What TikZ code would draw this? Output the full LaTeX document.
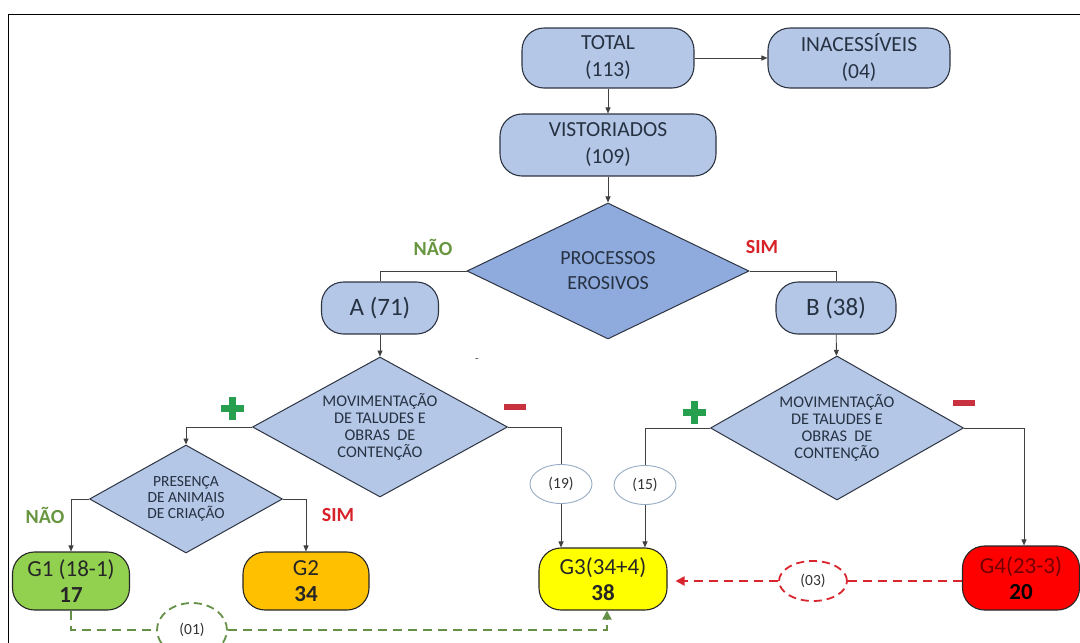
\documentclass[tikz,border=0pt]{standalone}
\usepackage{fontspec}
\setmainfont{Carlito}
\usepackage{tikz}
\usetikzlibrary{arrows.meta, shapes.geometric}
\definecolor{boxblue}{RGB}{180,199,231}
\definecolor{procblue}{RGB}{143,170,220}
\definecolor{boxline}{RGB}{45,52,66}
\definecolor{boxtext}{RGB}{38,50,66}
\definecolor{grpgreen}{RGB}{146,208,80}
\definecolor{grporange}{RGB}{255,192,0}
\definecolor{grpyellow}{RGB}{255,255,0}
\definecolor{grpred}{RGB}{255,0,0}
\definecolor{naogreen}{RGB}{104,150,64}
\definecolor{simred}{RGB}{214,34,40}
\definecolor{plusgreen}{RGB}{38,160,78}
\definecolor{minusred}{RGB}{200,50,62}
\definecolor{ellline}{RGB}{150,172,196}
\definecolor{dashgreen}{RGB}{100,145,70}
\definecolor{dashred}{RGB}{217,38,46}
\newcommand{\fs}[2]{\fontsize{#1}{#2}\selectfont}

\begin{document}
\begin{tikzpicture}[x=1pt, y=-1pt,
    box/.style={draw=boxline, fill=boxblue, line width=1.1pt, rounded corners=22pt,
        text=boxtext, align=center, inner sep=0pt},
    decision/.style={diamond, aspect=1.8, draw=boxline, fill=boxblue, line width=1pt,
        text=boxtext, align=center, inner sep=0pt},
    group/.style={box, draw=black!85, text=black!85, font=\fs{23}{26}},
    count/.style={ellipse, draw=ellline, fill=white, line width=0.9pt, inner sep=0pt,
        minimum width=62pt, minimum height=39pt, font=\fs{15.5}{17}, text=black!80},
    link/.style={draw=black!75, line width=0.9pt},
    arr/.style={link, -{Triangle[length=6pt, width=5pt]}},
    answer/.style={font=\fs{20}{22}\bfseries}]
    \useasboundingbox (0,0) rectangle (1080,643);
    \draw[line width=1.3pt] (1080,14.7) -- (8.7,14.7) -- (8.7,643);

    % Top of the tree
    \node[box, minimum width=172pt, minimum height=60pt, font=\fs{21.5}{27}] (total) at (608,58) {TOTAL\\(113)};
    \node[box, minimum width=182pt, minimum height=60pt, font=\fs{21.5}{27}] (inac) at (859,58) {INACESSÍVEIS\\(04)};
    \node[box, minimum width=216pt, minimum height=62pt, font=\fs{21.5}{27}] (vist) at (608,145) {VISTORIADOS\\(109)};
    \draw[arr] (total) -- (inac);
    \draw[arr] (total) -- (vist);

    % Erosion
    \node[decision, aspect=2, fill=procblue, minimum width=282pt, minimum height=136pt, font=\fs{20}{25}] (proc) at (608,271) {PROCESSOS\\EROSIVOS};
    \draw[arr] (vist) -- (proc);
    \node[answer, text=naogreen] (nao1) at (433,247) {NÃO};
    \node[answer, text=simred] (sim1) at (762,247) {SIM};
    \node[box, minimum width=117pt, minimum height=52pt, font=\fs{25}{27}] (a) at (380,308) {A (71)};
    \node[box, minimum width=120pt, minimum height=52pt, font=\fs{25}{27}] (b) at (836,308) {B (38)};
    \draw[link] (proc.west) -| (a.north);
    \draw[link] (proc.east) -| (b.north);
    \node[font=\fs{12}{12}, text=black!70] (dash) at (477,361) {-};

    % Slopes and retaining works
    \node[decision, minimum width=255pt, minimum height=140pt, font=\fs{16.3}{17}] (mov1) at (380,427)
        {MOVIMENTAÇÃO\\DE TALUDES E\\OBRAS\ \ DE\\CONTENÇÃO};
    \node[decision, minimum width=253pt, minimum height=144pt, font=\fs{16.3}{17}] (mov2) at (837,428)
        {MOVIMENTAÇÃO\\DE TALUDES E\\OBRAS\ \ DE\\CONTENÇÃO};
    \draw[arr] (a) -- (mov1);
    \draw[arr] (b) -- (mov2);
    \foreach \px/\py in {232/408, 694/412} {
        \fill[plusgreen] (\px-11.5,\py-3.5) rectangle (\px+11.5,\py+3.5);
        \fill[plusgreen] (\px-3.5,\py-11.5) rectangle (\px+3.5,\py+11.5);
    }
    \foreach \px/\py in {515/407, 964/403}
        \fill[minusred] (\px-11,\py-3) rectangle (\px+11,\py+3);

    % Animals
    \node[decision, minimum width=193pt, minimum height=108pt, font=\fs{15.5}{16}] (pres) at (186,499)
        {PRESENÇA\\DE ANIMAIS\\DE CRIAÇÃO};
    \draw[arr] (mov1.west) -| (pres.north);
    \node[answer, text=naogreen] (nao2) at (45,515) {NÃO};
    \node[answer, text=simred] (sim2) at (338,515) {SIM};

    % Groups
    \node[group, fill=grpgreen, minimum width=117pt, minimum height=58pt] (g1) at (71,581) {G1 (18-1)\\\textbf{17}};
    \node[group, fill=grporange, minimum width=126pt, minimum height=58pt] (g2) at (306,581) {G2\\\textbf{34}};
    \node[group, fill=grpyellow, minimum width=128pt, minimum height=62pt] (g3) at (603,579) {G3(34+4)\\\textbf{38}};
    \node[group, fill=grpred, minimum width=117pt, minimum height=64pt] (g4) at (1021,578)
        {\textcolor{red!45!black}{G4(23-3)}\\\textbf{\textcolor{black}{20}}};
    \draw[arr] (pres.west) -| (g1.north);
    \draw[arr] (pres.east) -| (g2.north);

    % Counts
    \node[count] (c19) at (561,484) {(19)};
    \node[count] (c15) at (645,485) {(15)};
    \draw[link] (mov1.east) -| (c19.north);
    \draw[link] (mov2.west) -| (c15.north);
    \draw[arr] (c19.south) -- (c19.south |- g3.north);
    \draw[arr] (c15.south) -- (c15.south |- g3.north);
    \draw[arr] (mov2.east) -| ([xshift=3pt]g4.north);

    % Moves between groups
    \node[count, draw=dashred, line width=1.8pt, dash pattern=on 8pt off 5pt, minimum width=68pt, minimum height=40pt] (c03) at (813,581) {(03)};
    \node[count, draw=dashgreen, line width=1.8pt, dash pattern=on 8pt off 5pt, minimum width=70pt, minimum height=54pt] (c01) at (192,630) {(01)};
    \draw[dashred, line width=2pt, dash pattern=on 9pt off 6pt] (g4.west |- c03) -- (c03.east);
    \draw[dashred, line width=2pt, dash pattern=on 9pt off 6pt, -{Triangle[length=9pt, width=9pt]}, shorten >=8pt]
        (c03.west) -- (g3.east |- c03);
    \draw[dashgreen, line width=2pt, dash pattern=on 9pt off 6pt] (g1.south) |- (c01.west);
    \draw[dashgreen, line width=2pt, dash pattern=on 9pt off 6pt, -{Triangle[length=9pt, width=9pt]}]
        (c01.east) -| ([xshift=4pt]g3.south);
\end{tikzpicture}
\end{document}
